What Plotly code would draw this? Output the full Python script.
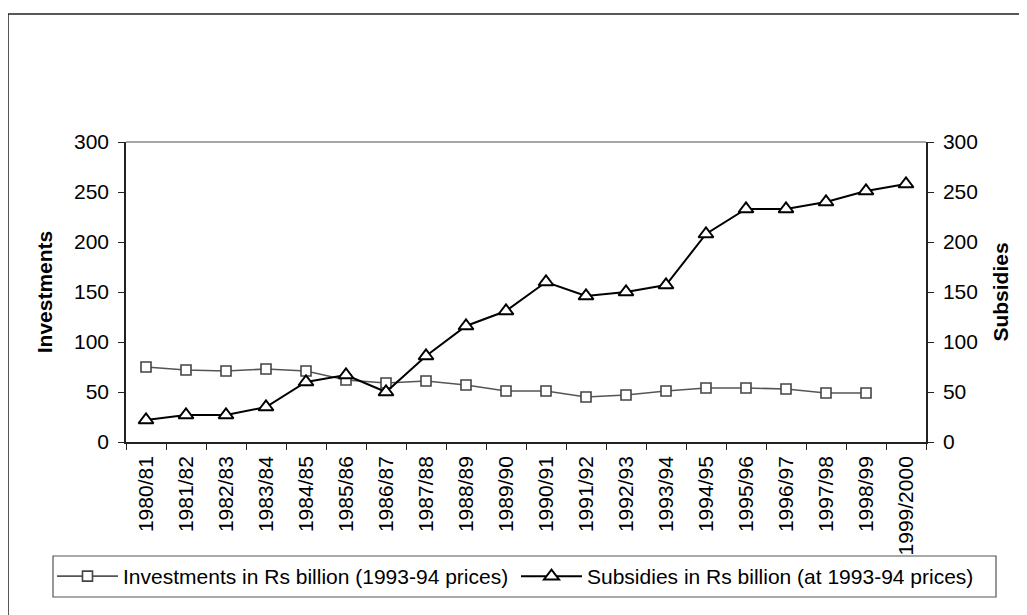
import plotly.graph_objects as go

years = ["1980/81", "1981/82", "1982/83", "1983/84", "1984/85", "1985/86", "1986/87",
         "1987/88", "1988/89", "1989/90", "1990/91", "1991/92", "1992/93", "1993/94",
         "1994/95", "1995/96", "1996/97", "1997/98", "1998/99", "1999/2000"]
investments = [75, 72, 71, 73, 71, 62, 59, 61, 57, 51, 51, 45, 47, 51, 54, 54, 53, 49, 49, None]
subsidies = [22, 27, 27, 35, 60, 67, 50, 86, 116, 131, 160, 146, 150, 157,
             208, 233, 233, 240, 251, 258]
y_ticks = [0, 50, 100, 150, 200, 250, 300]

FONT = "Liberation Sans, Arial, sans-serif"
FS = 21

fig = go.Figure()
fig.add_trace(go.Scatter(
    x=years, y=investments, mode="lines+markers",
    name="Investments in Rs billion (1993-94 prices)",
    line=dict(color="#555555", width=1.6),
    marker=dict(symbol="square", size=10, color="white",
                line=dict(color="#444444", width=1.6)),
    yaxis="y", xaxis="x", legend="legend"))
fig.add_trace(go.Scatter(
    x=years, y=subsidies, mode="lines+markers",
    name="Subsidies in Rs billion (at 1993-94 prices)",
    line=dict(color="black", width=2),
    marker=dict(symbol="triangle-up", size=13, color="white",
                line=dict(color="black", width=2)),
    yaxis="y2", xaxis="x", legend="legend2"))

n = len(years)
boundaries = [i - 0.5 for i in range(n + 1)]

# page body adds an 8px offset; figure laid out so plot area sits at x 126-926, y 142-442
W, H = 1019, 607
L, T, PW, PH = 118, 134, 800, 300

leg_common = dict(orientation="h", xref="container", xanchor="left",
                  yref="container", y=1 - (556 - 8) / H, yanchor="top",
                  borderwidth=0, bgcolor="rgba(0,0,0,0)",
                  font=dict(family=FONT, size=FS), itemwidth=61)

fig.update_layout(
    width=W, height=H,
    margin=dict(l=L, r=W - L - PW, t=T, b=H - T - PH, autoexpand=False),
    paper_bgcolor="white", plot_bgcolor="white",
    font=dict(family=FONT, size=FS, color="black"),
    showlegend=True,
    xaxis=dict(type="category", categoryorder="array", categoryarray=years,
               tickson="boundaries", ticks="outside", ticklen=6, tickwidth=1.3,
               tickcolor="#222", showline=True, linecolor="#222", linewidth=1.5,
               showgrid=False, zeroline=False, tickangle=-90,
               tickfont=dict(family=FONT, size=FS), ticklabelstandoff=4,
               range=[-0.5, n - 0.5]),
    xaxis2=dict(overlaying="x", anchor="y", range=[-0.5, n - 0.5], type="linear",
                tickmode="array", tickvals=boundaries, ticks="inside", ticklen=6,
                tickwidth=1.3, tickcolor="#222", showticklabels=False,
                showline=False, showgrid=False, zeroline=False),
    yaxis=dict(range=[0, 300], tickvals=y_ticks, ticks="outside", ticklen=6,
               tickwidth=1.3, tickcolor="#222", showline=True, linecolor="#222",
               linewidth=1.5, showgrid=False, zeroline=False,
               ticklabelstandoff=5,
               title=dict(text="<b>Investments</b>", standoff=16,
                          font=dict(family=FONT, size=FS))),
    yaxis2=dict(range=[0, 300], tickvals=y_ticks, overlaying="y", side="right",
                anchor="x", ticks="outside", ticklen=6, tickwidth=1.3,
                tickcolor="#222", showline=True, linecolor="#222", linewidth=1.5,
                showgrid=False, zeroline=False, ticklabelstandoff=5,
                title=dict(text="<b>Subsidies</b>", standoff=16,
                           font=dict(family=FONT, size=FS))),
    yaxis3=dict(range=[0, 300], tickvals=y_ticks, overlaying="y", side="left",
                anchor="x", ticks="inside", ticklen=6, tickwidth=1.3,
                tickcolor="#222", showticklabels=False, showline=False,
                showgrid=False, zeroline=False),
    yaxis4=dict(range=[0, 300], tickvals=y_ticks, overlaying="y", side="right",
                anchor="x", ticks="inside", ticklen=6, tickwidth=1.3,
                tickcolor="#222", showticklabels=False, showline=False,
                showgrid=False, zeroline=False),
    legend=dict(x=(52 - 8) / W, **leg_common),
    legend2=dict(x=(516 - 8) / W, **leg_common),
    shapes=[
        dict(type="line", xref="paper", yref="paper", x0=0, x1=1, y0=1, y1=1,
             line=dict(color="#888888", width=1.5)),
        dict(type="rect", xref="paper", yref="paper",
             x0=(8 - 126) / PW, x1=(1040 - 126) / PW,
             y0=(442 - 640) / PH, y1=(442 - 14) / PH,
             line=dict(color="#222222", width=1.5), fillcolor="rgba(0,0,0,0)",
             layer="below"),
        dict(type="rect", xref="paper", yref="paper",
             x0=(53 - 126) / PW, x1=(996 - 126) / PW,
             y0=(442 - 597) / PH, y1=(442 - 556) / PH,
             line=dict(color="#555555", width=1.2), fillcolor="white",
             layer="below"),
    ],
)

fig.write_html("out.html")
